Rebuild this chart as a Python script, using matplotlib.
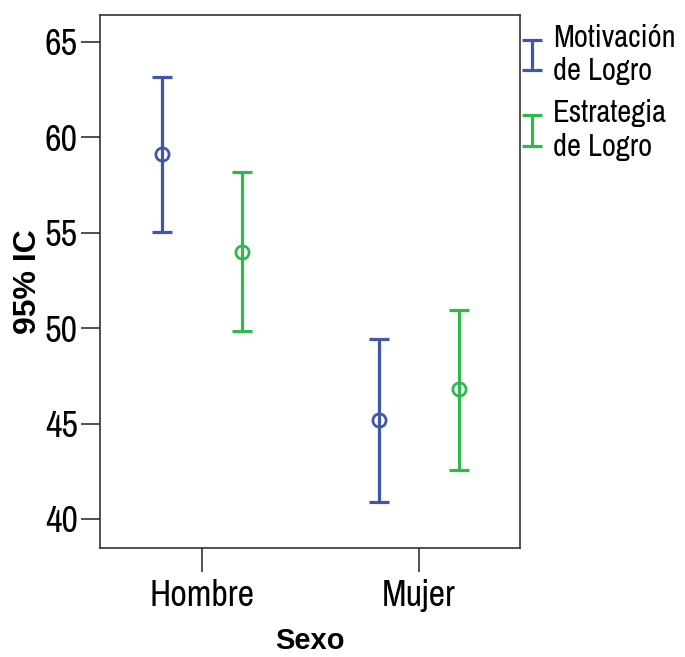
import matplotlib
matplotlib.use("Agg")
import matplotlib.pyplot as plt

# Mean and 95% confidence interval per group
categories = ["Hombre", "Mujer"]
series_names = ["Motivación\nde Logro", "Estrategia\nde Logro"]
means = [[59.1, 45.2], [54.0, 46.8]]
lower = [[55.05, 40.9], [49.85, 42.55]]
upper = [[63.15, 49.45], [58.15, 50.95]]
yticks = [40, 45, 50, 55, 60, 65]

COLORS = ["#3F57A8", "#2FB84B"]
NARROW = ["Archivo Narrow", "Liberation Sans", "DejaVu Sans"]
BOLD = ["Liberation Sans", "DejaVu Sans"]
plt.rcParams["font.family"] = NARROW

fig = plt.figure(figsize=(6.85, 6.57), dpi=100)
ax = fig.add_axes([100 / 685, 1 - 548 / 657, 420 / 685, 533 / 657])

offsets = [-0.184, 0.184]
for s, name in enumerate(series_names):
    xs = [i + offsets[s] for i in range(len(categories))]
    lo = [m - l for m, l in zip(means[s], lower[s])]
    hi = [u - m for m, u in zip(means[s], upper[s])]
    ax.errorbar(xs, means[s], yerr=[lo, hi], fmt="none", ecolor=COLORS[s],
                elinewidth=2.3, capsize=7.5, capthick=2.3, label=name)
    ax.plot(xs, means[s], linestyle="none", marker="o", markersize=9.5,
            markerfacecolor="none", markeredgecolor=COLORS[s], markeredgewidth=2.0)

ax.set_xlim(-0.469, 1.467)
ax.set_ylim(38.48, 66.4)
ax.set_xticks(range(len(categories)))
ax.set_xticklabels(categories)
ax.set_yticks(yticks)
ax.tick_params(axis="y", length=14, width=1.2, labelsize=26, pad=2, color="#333333")
ax.tick_params(axis="x", length=17, width=1.2, labelsize=26, pad=5, color="#333333")
for sp in ax.spines.values():
    sp.set_color("#333333")
    sp.set_linewidth(1.2)

ax.set_xlabel("Sexo", fontsize=21, fontweight="bold", family=BOLD, labelpad=11)
ax.set_ylabel("95% IC", fontsize=23, fontweight="bold", family=BOLD, labelpad=1)

leg = ax.legend(loc="upper left", bbox_to_anchor=(1.0095, 0.984), frameon=False,
                fontsize=22, handlelength=0.55, handletextpad=0.4,
                labelspacing=0.45, borderaxespad=0, borderpad=0)
for t in leg.get_texts():
    t.set_linespacing(1.25)

fig.savefig("out.png", dpi=100)
